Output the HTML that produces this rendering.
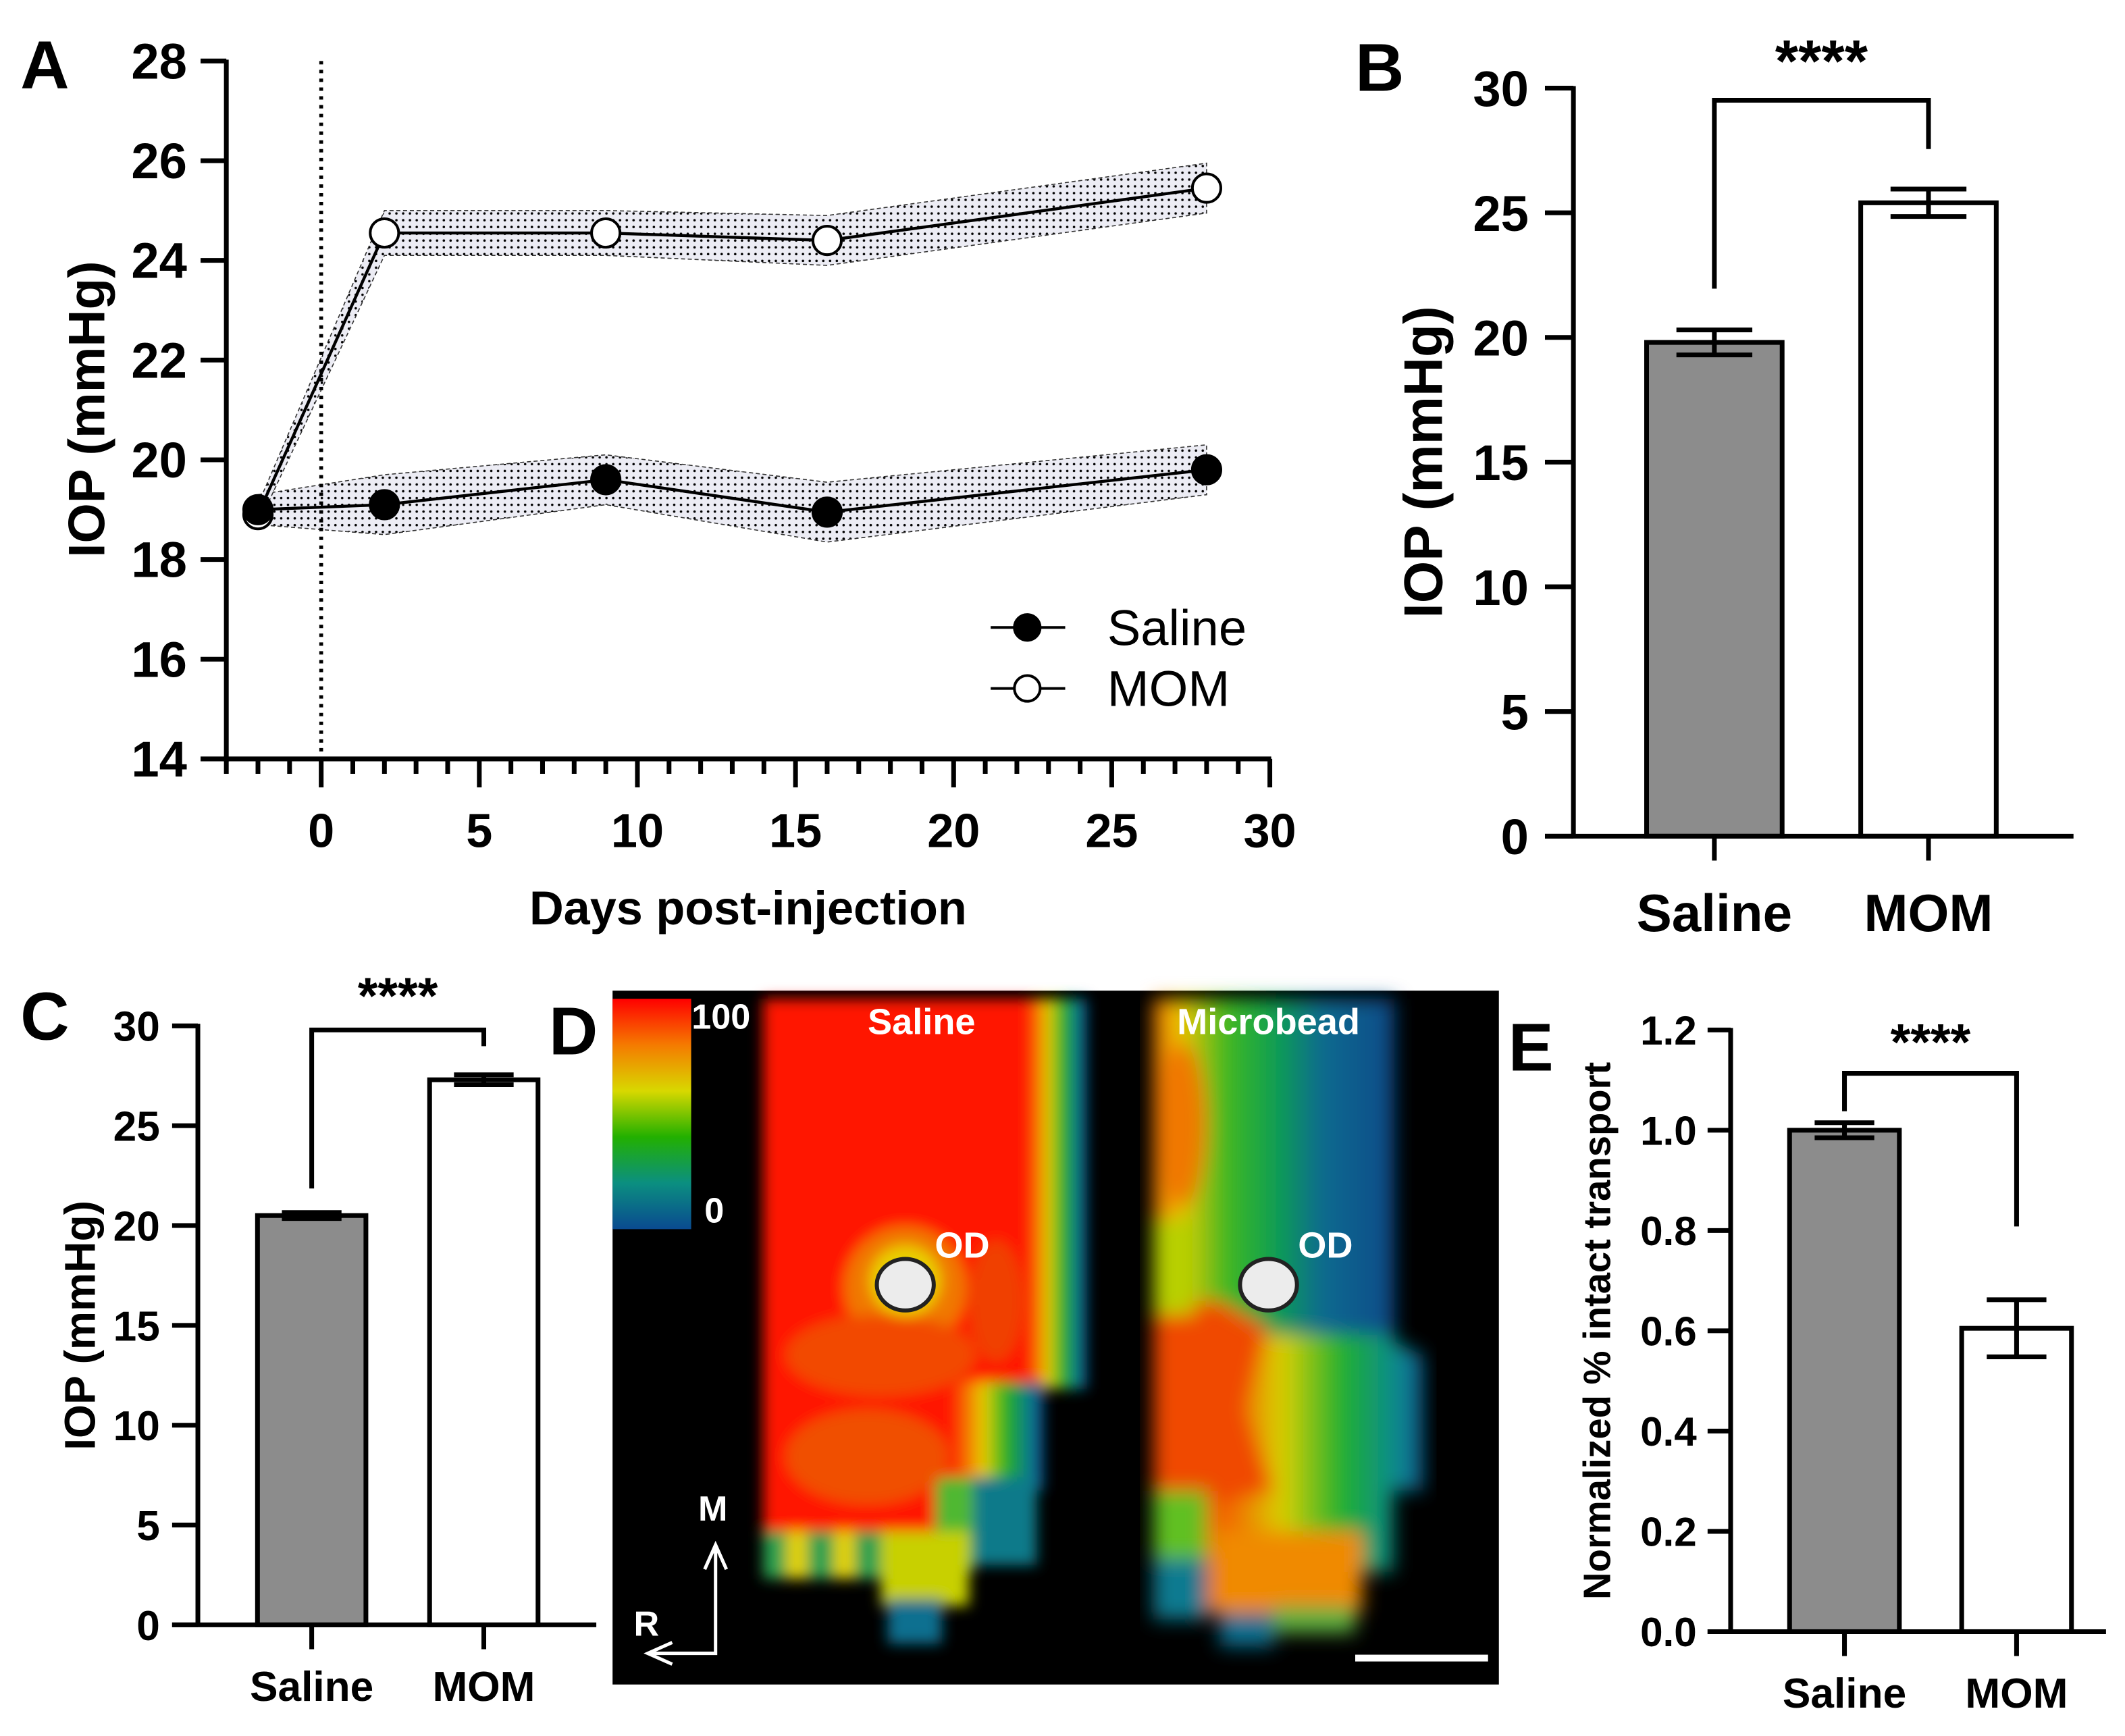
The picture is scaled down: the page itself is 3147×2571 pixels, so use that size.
<!DOCTYPE html>
<html><head><meta charset="utf-8">
<style>
html,body{margin:0;padding:0;background:#fff;}
svg{display:block;font-family:"Liberation Sans",Arial,sans-serif;}
</style></head>
<body>
<svg id="fig" xmlns="http://www.w3.org/2000/svg" width="3147" height="2571" viewBox="0 0 1568 1281">
<defs>
<pattern id="dots" width="5" height="5" patternUnits="userSpaceOnUse">
<rect width="5" height="5" fill="#ececf4"/><circle cx="2.5" cy="2.5" r="0.9" fill="#000"/>
</pattern>
<filter id="blur" x="-5%" y="-5%" width="110%" height="110%"><feGaussianBlur stdDeviation="5"/></filter>
<filter id="blur2" x="-5%" y="-5%" width="110%" height="110%"><feGaussianBlur stdDeviation="7"/></filter>
<linearGradient id="cbar" x1="0" y1="0" x2="0" y2="1">
<stop offset="0" stop-color="#ff0000"/><stop offset="0.2" stop-color="#f57a00"/><stop offset="0.4" stop-color="#d8d800"/>
<stop offset="0.6" stop-color="#22b000"/><stop offset="0.8" stop-color="#0b8f80"/><stop offset="1" stop-color="#0a4a90"/>
</linearGradient>
<linearGradient id="salEdge" x1="0" y1="0" x2="1" y2="0">
<stop offset="0" stop-color="#ff1a00"/><stop offset="0.35" stop-color="#e8d000"/><stop offset="0.6" stop-color="#20b020"/><stop offset="0.85" stop-color="#0a7a90"/><stop offset="1" stop-color="#0a4a90"/>
</linearGradient>
<linearGradient id="micTop" x1="0" y1="0" x2="1" y2="0">
<stop offset="0" stop-color="#f07000"/><stop offset="0.12" stop-color="#e8c800"/><stop offset="0.3" stop-color="#40b820"/><stop offset="0.5" stop-color="#10a050"/><stop offset="0.7" stop-color="#0a6a90"/><stop offset="1" stop-color="#0a4a88"/>
</linearGradient>
<linearGradient id="micBot" x1="0" y1="0" x2="1" y2="0">
<stop offset="0" stop-color="#ff3000"/><stop offset="0.3" stop-color="#f07000"/><stop offset="0.48" stop-color="#d8d000"/><stop offset="0.7" stop-color="#20b030"/><stop offset="0.9" stop-color="#0a8a90"/><stop offset="1" stop-color="#0a5a90"/>
</linearGradient>
</defs>
<g id="root"></g>
</svg>
<script>
// ---- Panel A data ----
const daysA = [-2, 2, 9, 16, 28];
const salineA = [19.0, 19.1, 19.6, 18.95, 19.8];
const salineErrA = [0.3, 0.6, 0.5, 0.6, 0.5];
const momA = [18.9, 24.55, 24.55, 24.4, 25.45];
const momErrA = [0.2, 0.45, 0.45, 0.5, 0.5];
const yTicksA = [14, 16, 18, 20, 22, 24, 26, 28];
const xTicksA = [0, 5, 10, 15, 20, 25, 30];
// ---- Panel B data ----
const catsB = ["Saline", "MOM"];
const valsB = [19.8, 25.4];
const errB = [0.5, 0.55];
const yTicksB = [0, 5, 10, 15, 20, 25, 30];
// ---- Panel C data ----
const catsC = ["Saline", "MOM"];
const valsC = [20.5, 27.3];
const errC = [0.15, 0.25];
const yTicksC = [0, 5, 10, 15, 20, 25, 30];
// ---- Panel E data ----
const catsE = ["Saline", "MOM"];
const valsE = [1.0, 0.605];
const errE = [0.015, 0.057];
const yTicksE = [0.0, 0.2, 0.4, 0.6, 0.8, 1.0, 1.2];

const NS = "http://www.w3.org/2000/svg";
const root = document.getElementById("root");
function mk(tag, attrs, parent) {
  const e = document.createElementNS(NS, tag);
  for (const k in attrs) e.setAttribute(k, attrs[k]);
  (parent || root).appendChild(e);
  return e;
}
function txt(s, x, y, size, attrs, parent) {
  const a = Object.assign({x: x, y: y, "font-size": size, "font-weight": "bold", "text-anchor": "middle", fill: "#000"}, attrs || {});
  const t = mk("text", a, parent);
  t.textContent = s;
  return t;
}

// ================= Panel A =================
const gA = mk("g", {});


const ax = d => 237 + (d - 0) * (700 / 30);
const ay = v => 560 - (v - 14) * (515 / 14);
let l;
l = mk("text", {x: 15, y: 65, "font-size": 50, "font-weight": "bold"}, gA); l.textContent = "A";


function band(vals, errs, name) {
  let up = daysA.map((d, i) => ax(d) + "," + ay(vals[i] + errs[i]));
  let dn = daysA.map((d, i) => ax(d) + "," + ay(vals[i] - errs[i])).reverse();
  const p = mk("polygon", {points: up.concat(dn).join(" "), fill: "url(#dots)", stroke: "#333", "stroke-width": 0.8, "stroke-dasharray": "3,2"}, gA);
  
  
}
band(salineA, salineErrA, 'saline-error-band');
band(momA, momErrA, 'mom-error-band');
l = mk("line", {x1: ax(0), y1: 45, x2: ax(0), y2: 560, stroke: "#000", "stroke-width": 2.8, "stroke-dasharray": "2.5,4"}, gA);


function series(vals, fill, name) {
  const pl = mk("polyline", {points: daysA.map((d, i) => ax(d) + "," + ay(vals[i])).join(" "), fill: "none", stroke: "#000", "stroke-width": 2.2}, gA);
  
  
  daysA.forEach((d, i) => {
    const c = mk("circle", {cx: ax(d), cy: ay(vals[i]), r: 10.5, fill: fill, stroke: "#000", "stroke-width": 2}, gA);
    
    
  });
}
series(momA, "#fff", 'mom');
series(salineA, "#000", 'saline');
l = mk("line", {x1: 167, y1: 44, x2: 167, y2: 562, stroke: "#000", "stroke-width": 3.5}, gA);


l = mk("line", {x1: 165, y1: 560, x2: 938, y2: 560, stroke: "#000", "stroke-width": 3.5}, gA);


yTicksA.forEach(v => {
  const t = mk("line", {x1: 148, y1: ay(v), x2: 167, y2: ay(v), stroke: "#000", "stroke-width": 3.5}, gA);
  
  
  const tl = txt(String(v), 138, ay(v) + 13, 37, {"text-anchor": "end"}, gA);
  
  
});
for (let d = -3; d <= 30; d++) {
  const major = d % 5 === 0;
  const t = mk("line", {x1: ax(d), y1: 560, x2: ax(d), y2: 560 + (major ? 21 : 11), stroke: "#000", "stroke-width": 3.5}, gA);
  
  
}
xTicksA.forEach(d => {
  const tl = txt(String(d), ax(d), 625, 35, {}, gA);
  
  
});
l = txt("Days post-injection", 552, 682, 35, {}, gA);


l = txt("IOP (mmHg)", 0, 0, 38, {transform: "translate(77,302) rotate(-90)"}, gA);


[["Saline", "#000", 463], ["MOM", "#fff", 508]].forEach(([name, f, y]) => {
  const g = mk("g", {}, gA);
  
  
  mk("line", {x1: 731, y1: y, x2: 786, y2: y, stroke: "#000", "stroke-width": 2}, g);
  mk("circle", {cx: 758, cy: y, r: 9.5, fill: f, stroke: "#000", "stroke-width": 2}, g);
  txt(name, 817, y + 13, 37, {"font-weight": "normal", "text-anchor": "start"}, g);
});

// ================= Bar panel helper =================
function barPanel(o) {
  const g = mk("g", {});
  
  
  const y = v => o.y0 - (v - o.ymin) / (o.ymax - o.ymin) * (o.y0 - o.y1);
  let e = mk("text", {x: o.lx, y: o.ly, "font-size": 50, "font-weight": "bold"}, g); e.textContent = o.letter;
  
  
  o.vals.forEach((v, i) => {
    const cx = o.centers[i];
    const r = mk("rect", {x: cx - o.bw / 2, y: y(v), width: o.bw, height: o.y0 - y(v), fill: i === 0 ? "#8c8c8c" : "#fff", stroke: "#000", "stroke-width": 3.5}, g);
    
    
    const eb = mk("path", {d: `M${cx},${y(v)} V${y(v + o.errs[i])} M${cx - o.cap},${y(v + o.errs[i])} H${cx + o.cap} M${cx},${y(v)} V${y(v - o.errs[i])} M${cx - o.cap},${y(v - o.errs[i])} H${cx + o.cap}`, stroke: "#000", "stroke-width": 3.5, fill: "none"}, g);
    
    
    const t = mk("line", {x1: cx, y1: o.y0, x2: cx, y2: o.y0 + 18, stroke: "#000", "stroke-width": 3.5}, g);
    
    
    const tl = txt(o.cats[i], cx, o.catY, o.catSize, {}, g);
    
    
  });
  e = mk("line", {x1: o.x0, y1: o.y1 - 1.5, x2: o.x0, y2: o.y0 + 1.5, stroke: "#000", "stroke-width": 3.5}, g);
  
  
  e = mk("line", {x1: o.x0 - o.tickLen, y1: o.y0, x2: o.xEnd, y2: o.y0, stroke: "#000", "stroke-width": 3.5}, g);
  
  
  o.ticks.forEach(v => {
    const t = mk("line", {x1: o.x0 - o.tickLen, y1: y(v), x2: o.x0, y2: y(v), stroke: "#000", "stroke-width": 3.5}, g);
    
    
    const tl = txt(o.fmt(v), o.labelEnd, y(v) + o.tickSize * 0.36, o.tickSize, {"text-anchor": "end"}, g);
    
    
  });
  const [bl, br] = o.centers;
  e = mk("path", {d: `M${bl},${o.brLeft} V${o.brY} H${br} V${o.brRight}`, stroke: "#000", "stroke-width": 3.5, fill: "none"}, g);
  
  
  e = txt("****", (bl + br) / 2, o.starY, o.starSize, {}, g);
  
  
  e = txt(o.title, 0, 0, o.titleSize, {transform: `translate(${o.titleX},${(o.y0 + o.y1) / 2}) rotate(-90)`}, g);
  
  
}
barPanel({name: 'panel-b-bar-chart', letter: 'B', lx: 1000, ly: 67, cats: catsB, vals: valsB, errs: errB, ticks: yTicksB, fmt: v => String(v),
  x0: 1161, xEnd: 1530, y0: 617, y1: 65, ymin: 0, ymax: 30, centers: [1265, 1423], bw: 100, cap: 28, tickLen: 21, labelEnd: 1128,
  catY: 687, catSize: 39, tickSize: 37, brY: 74, brLeft: 213, brRight: 110, starY: 60, starSize: 44,
  title: "IOP (mmHg)", titleX: 1064, titleSize: 40});
barPanel({name: 'panel-c-bar-chart', letter: 'C', lx: 15, ly: 767, cats: catsC, vals: valsC, errs: errC, ticks: yTicksC, fmt: v => String(v),
  x0: 146, xEnd: 440, y0: 1199, y1: 757, ymin: 0, ymax: 30, centers: [230, 357], bw: 80, cap: 22, tickLen: 19, labelEnd: 118,
  catY: 1255, catSize: 31, tickSize: 31, brY: 760, brLeft: 877, brRight: 772, starY: 748, starSize: 38,
  title: "IOP (mmHg)", titleX: 70, titleSize: 32});
barPanel({name: 'panel-e-bar-chart', letter: 'E', lx: 1113, ly: 790, cats: catsE, vals: valsE, errs: errE, ticks: yTicksE, fmt: v => v.toFixed(1),
  x0: 1277, xEnd: 1554, y0: 1204, y1: 760, ymin: 0, ymax: 1.2, centers: [1361, 1488], bw: 81, cap: 22, tickLen: 17, labelEnd: 1252,
  catY: 1260, catSize: 31, tickSize: 30, brY: 792, brLeft: 820, brRight: 905, starY: 782, starSize: 38,
  title: "Normalized % intact transport", titleX: 1188, titleSize: 28});

// ================= Panel D (heatmap image) =================
const gD = mk("g", {});


l = mk("text", {x: 405, y: 778, "font-size": 50, "font-weight": "bold"}, gD); l.textContent = "D";


l = mk("rect", {x: 452, y: 731, width: 654, height: 512, fill: "#000"}, gD);


l = mk("rect", {x: 452, y: 737, width: 58, height: 170, fill: "url(#cbar)"}, gD);


const sal = mk("g", {filter: "url(#blur)"}, gD);


mk("polygon", {points: "563,737 770,737 770,1025 740,1025 740,1090 700,1090 700,1130 650,1130 650,1165 563,1165", fill: "#ff1200"}, sal);
mk("rect", {x: 758, y: 737, width: 44, height: 288, fill: "url(#salEdge)"}, sal);
mk("rect", {x: 702, y: 1020, width: 68, height: 80, fill: "url(#salEdge)"}, sal);
mk("rect", {x: 690, y: 1090, width: 75, height: 65, fill: "#0b7a8a"}, sal);
mk("rect", {x: 690, y: 1090, width: 28, height: 70, fill: "#50b830"}, sal);
mk("rect", {x: 563, y: 1130, width: 90, height: 35, fill: "#2aa050"}, sal);
mk("rect", {x: 580, y: 1130, width: 16, height: 35, fill: "#e0d000"}, sal);
mk("rect", {x: 615, y: 1130, width: 16, height: 35, fill: "#e0d000"}, sal);
mk("rect", {x: 650, y: 1130, width: 65, height: 55, fill: "#c8d000"}, sal);
mk("rect", {x: 655, y: 1180, width: 40, height: 33, fill: "#0a7090"}, sal);
mk("ellipse", {cx: 668, cy: 950, rx: 45, ry: 45, fill: "#f07800"}, sal);
mk("ellipse", {cx: 668, cy: 945, rx: 26, ry: 26, fill: "#e8d000"}, sal);
mk("ellipse", {cx: 650, cy: 1000, rx: 70, ry: 30, fill: "#f24a00"}, sal);
mk("ellipse", {cx: 640, cy: 1075, rx: 60, ry: 35, fill: "#f05000"}, sal);
mk("ellipse", {cx: 735, cy: 960, rx: 20, ry: 45, fill: "#f04000"}, sal);
const mic = mk("g", {filter: "url(#blur2)"}, gD);


mk("rect", {x: 851, y: 737, width: 178, height: 260, fill: "url(#micTop)"}, mic);
mk("polygon", {points: "851,985 1029,985 1029,990 1050,1000 1050,1100 1028,1100 1028,1160 1000,1160 1000,1190 851,1190", fill: "url(#micBot)"}, mic);
mk("polygon", {points: "851,960 900,960 935,980 920,1040 940,1100 851,1120", fill: "#f04a00"}, mic);
mk("ellipse", {cx: 872, cy: 830, rx: 18, ry: 60, fill: "#f07800"}, mic);
mk("rect", {x: 851, y: 900, width: 30, height: 70, fill: "#b8d000"}, mic);
mk("rect", {x: 851, y: 1100, width: 40, height: 55, fill: "#60c020"}, mic);
mk("rect", {x: 851, y: 1150, width: 40, height: 45, fill: "#0a7a90"}, mic);
mk("rect", {x: 895, y: 1130, width: 110, height: 60, fill: "#f08a00"}, mic);
mk("rect", {x: 900, y: 1190, width: 40, height: 25, fill: "#0a7090"}, mic);
mk("rect", {x: 940, y: 1185, width: 60, height: 20, fill: "#60b040"}, mic);
[[668, 948], [936, 948]].forEach(([cx, cy], i) => {
  const c = mk("ellipse", {cx: cx, cy: cy, rx: 21, ry: 19, fill: "#ececec", stroke: "#222", "stroke-width": 3}, gD);
  
  
  const t = txt("OD", cx + 42, 928, 27, {fill: "#fff"}, gD);
  
  
});
[["100", 532, 759], ["0", 527, 902], ["Saline", 680, 763], ["Microbead", 936, 763], ["M", 526, 1122], ["R", 477, 1207]].forEach(([s, x, y]) => {
  const t = txt(s, x, y, s.length > 3 ? 27 : 26, {fill: "#fff"}, gD);
  
  
});
l = mk("path", {d: "M528,1140 V1220 H480 M520,1158 L528,1140 L536,1158 M496,1212 L478,1220 L496,1228", stroke: "#fff", "stroke-width": 2.5, fill: "none"}, gD);


l = mk("rect", {x: 1000, y: 1221, width: 98, height: 5, fill: "#fff"}, gD);


</script>
</body></html>
